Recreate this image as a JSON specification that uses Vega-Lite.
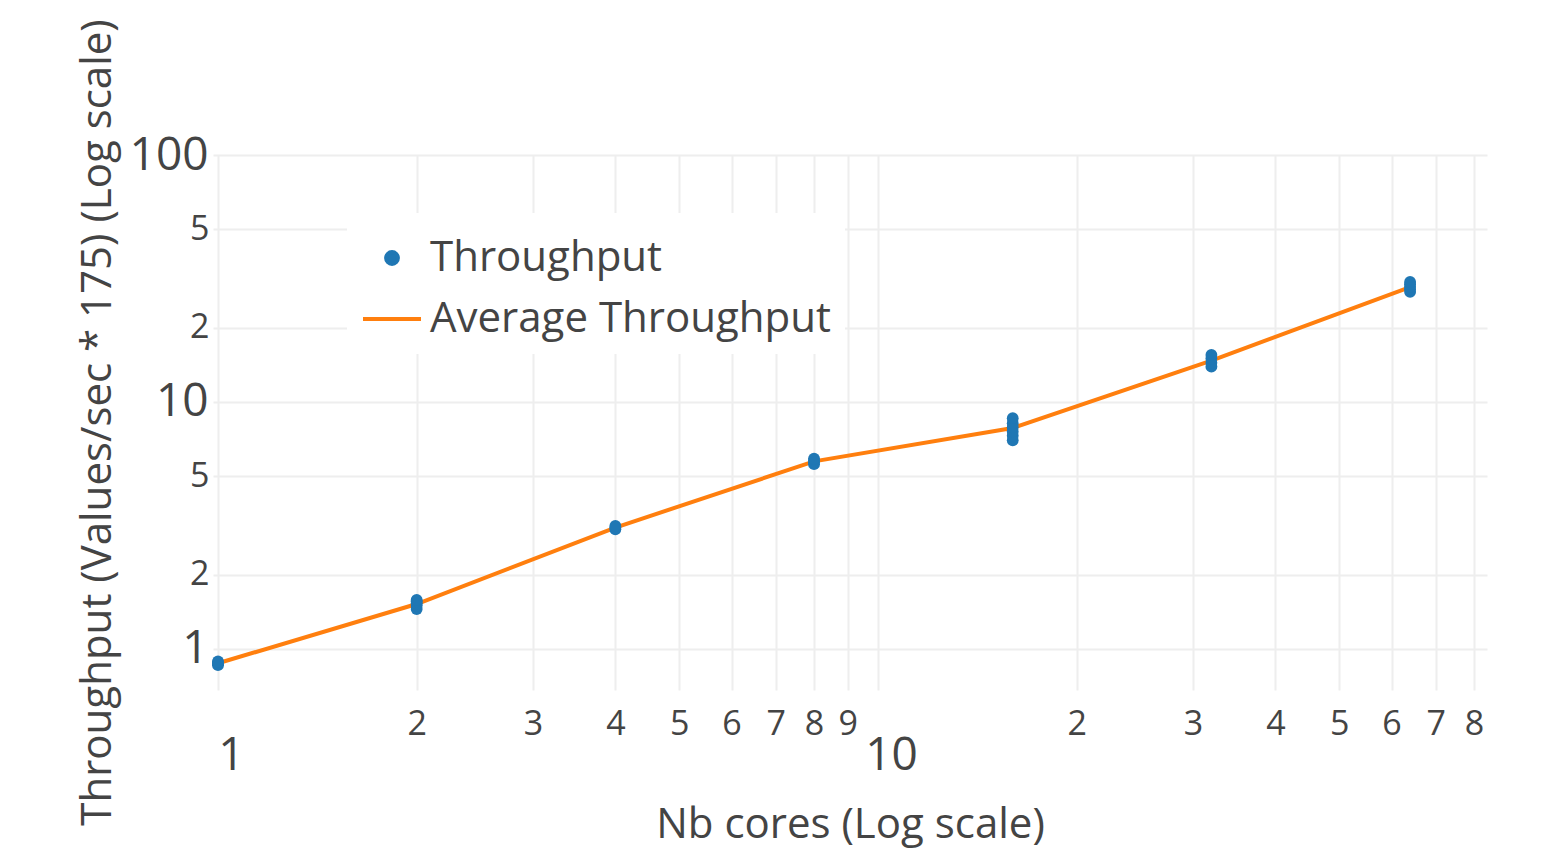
{
  "$schema": "https://vega.github.io/schema/vega-lite/v6.json",
  "width": 1274,
  "height": 535,
  "autosize": {"type": "none"},
  "padding": {"left": 213, "top": 155, "right": 67, "bottom": 160},
  "background": "white",
  "datasets": {
    "pts": [
      {"cores": 1, "throughput": 0.86}, {"cores": 1, "throughput": 0.87}, {"cores": 1, "throughput": 0.88}, {"cores": 1, "throughput": 0.89},
      {"cores": 2, "throughput": 1.45}, {"cores": 2, "throughput": 1.5}, {"cores": 2, "throughput": 1.53}, {"cores": 2, "throughput": 1.56}, {"cores": 2, "throughput": 1.58},
      {"cores": 4, "throughput": 3.05}, {"cores": 4, "throughput": 3.1}, {"cores": 4, "throughput": 3.15},
      {"cores": 8, "throughput": 5.6}, {"cores": 8, "throughput": 5.7}, {"cores": 8, "throughput": 5.8}, {"cores": 8, "throughput": 5.9},
      {"cores": 16, "throughput": 7.0}, {"cores": 16, "throughput": 7.3}, {"cores": 16, "throughput": 7.6}, {"cores": 16, "throughput": 7.9}, {"cores": 16, "throughput": 8.2}, {"cores": 16, "throughput": 8.6},
      {"cores": 32, "throughput": 13.9}, {"cores": 32, "throughput": 14.4}, {"cores": 32, "throughput": 15.0}, {"cores": 32, "throughput": 15.5},
      {"cores": 64, "throughput": 27.9}, {"cores": 64, "throughput": 28.6}, {"cores": 64, "throughput": 29.3}, {"cores": 64, "throughput": 30.0}, {"cores": 64, "throughput": 30.6}
    ],
    "avg": [
      {"cores": 1, "throughput": 0.875},
      {"cores": 2, "throughput": 1.52},
      {"cores": 4, "throughput": 3.1},
      {"cores": 8, "throughput": 5.75},
      {"cores": 16, "throughput": 7.85},
      {"cores": 32, "throughput": 14.7},
      {"cores": 64, "throughput": 29.2}
    ]
  },
  "encoding": {
    "x": {
      "field": "cores",
      "type": "quantitative",
      "scale": {"type": "log", "domain": [0.9827, 83.7], "nice": false},
      "axis": {
        "title": "Nb cores (Log scale)",
        "values": [1, 2, 3, 4, 5, 6, 7, 8, 9, 10, 20, 30, 40, 50, 60, 70, 80],
        "labelExpr": "datum.value == 1 || datum.value == 10 ? datum.value + '' : (datum.value < 10 ? datum.value + '' : (datum.value / 10) + '')",
        "labelFontSize": {"condition": {"test": "datum.value == 1 || datum.value == 10", "value": 46}, "value": 34},
        "labelPadding": {"condition": {"test": "datum.value == 1 || datum.value == 10", "value": 43}, "value": 17},
        "labelOffset": {"condition": {"test": "datum.value == 1 || datum.value == 10", "value": 13}, "value": 0},
        "labelBaseline": "top",
        "labelFlush": false,
        "labelOverlap": false,
        "titleX": 637,
        "titleY": 147,
        "titleBaseline": "alphabetic",
        "titleAlign": "center"
      }
    },
    "y": {
      "field": "throughput",
      "type": "quantitative",
      "scale": {"type": "log", "domain": [0.682, 100], "nice": false},
      "axis": {
        "title": "Throughput (Values/sec * 175) (Log scale)",
        "values": [1, 2, 5, 10, 20, 50, 100],
        "labelExpr": "datum.value == 20 || datum.value == 50 ? (datum.value / 10) + '' : datum.value + ''",
        "labelFontSize": {"condition": {"test": "datum.value == 1 || datum.value == 10 || datum.value == 100", "value": 46}, "value": 34},
        "labelPadding": {"condition": {"test": "datum.value == 1 || datum.value == 10 || datum.value == 100", "value": 5}, "value": 4},
        "labelBaseline": "middle",
        "labelFlush": false,
        "labelOverlap": false,
        "titleX": -103,
        "titleY": 267,
        "titleAngle": -90,
        "titleBaseline": "alphabetic",
        "titleAlign": "center"
      }
    }
  },
  "layer": [
    {
      "data": {"name": "avg"},
      "mark": {"type": "line", "strokeWidth": 4, "clip": false},
      "encoding": {
        "color": {
          "datum": "Average Throughput",
          "type": "nominal",
          "scale": {"domain": ["Throughput", "Average Throughput"], "range": ["#1f77b4", "#ff7f0e"]},
          "legend": {
            "title": null,
            "encode": {
              "symbols": {
                "update": {
                  "shape": {"signal": "datum.value === 'Throughput' ? 'circle' : 'stroke'"},
                  "size": {"signal": "datum.value === 'Throughput' ? 140 : 3364"},
                  "fill": {"signal": "datum.value === 'Throughput' ? '#1f77b4' : 'transparent'"},
                  "stroke": {"signal": "datum.value === 'Throughput' ? 'transparent' : '#ff7f0e'"},
                  "strokeWidth": {"value": 4},
                  "opacity": {"value": 1},
                  "fillOpacity": {"value": 1}
                }
              }
            }
          }
        }
      }
    },
    {
      "data": {"name": "pts"},
      "mark": {"type": "point", "filled": true, "opacity": 1, "size": 140, "shape": "circle", "clip": false},
      "encoding": {
        "color": {"datum": "Throughput", "type": "nominal"}
      }
    }
  ],
  "resolve": {"scale": {"color": "shared"}},
  "config": {
    "font": "Open Sans",
    "view": {"stroke": null},
    "axis": {
      "domain": false,
      "ticks": false,
      "grid": true,
      "gridColor": "#eeeeee",
      "gridWidth": 2,
      "labelColor": "#444444",
      "labelFont": "Open Sans",
      "titleColor": "#444444",
      "titleFont": "Open Sans",
      "titleFontSize": 42,
      "titleFontWeight": "normal"
    },
    "legend": {
      "orient": "none",
      "legendX": 134,
      "legendY": 58,
      "fillColor": "white",
      "padding": 14,
      "labelFont": "Open Sans",
      "labelFontSize": 42,
      "labelColor": "#444444",
      "labelOffset": 7,
      "rowPadding": 9,
      "symbolSize": 3364,
      "labelLimit": 1000
    }
  }
}
